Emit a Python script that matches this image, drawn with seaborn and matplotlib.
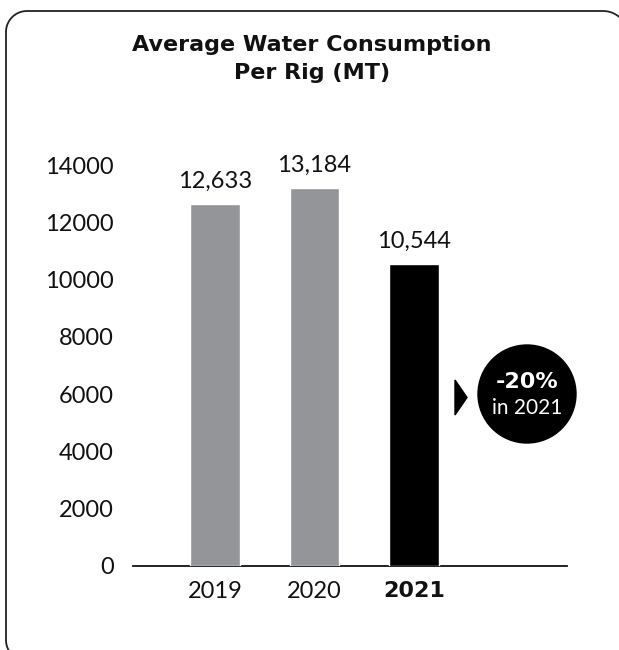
import matplotlib
matplotlib.use("Agg")
import matplotlib.pyplot as plt
import seaborn as sns
import pandas as pd
import numpy as np
from matplotlib.patches import Ellipse, Polygon

years = ["2019", "2020", "2021"]
values = [12633, 13184, 10544]
value_labels = ["12,633", "13,184", "10,544"]
bar_colors = ["#939598", "#939598", "#000000"]
y_ticks = [0, 2000, 4000, 6000, 8000, 10000, 12000, 14000]
title = "Average Water Consumption\nPer Rig (MT)"
badge_main = "-20%"
badge_sub = "in 2021"

sns.set_theme(style="white")
plt.rcParams["font.family"] = ["Lato", "DejaVu Sans"]

W, H = 619, 650
fig = plt.figure(figsize=(W / 100, H / 100), dpi=100)
fig.patch.set_facecolor("white")

ax = fig.add_axes([133 / W, 1 - 566 / H, (567 - 133) / W, (566 - 165) / H])
df = pd.DataFrame({"year": years, "value": values})
sns.barplot(data=df, x="year", y="value", hue="year", palette=bar_colors,
            legend=False, width=0.5, ax=ax, saturation=1)
ax.set_xlim(-0.824, 3.54)
ax.set_ylim(0, 14000)
ax.set_yticks(y_ticks)
ax.set_yticklabels([str(t) for t in y_ticks], fontsize=17, color="#111111")
ax.tick_params(axis="y", length=0, pad=14)
ax.tick_params(axis="x", length=0, pad=11)
ax.set_xticks(range(len(years)))
ax.set_xticklabels(years, fontsize=17, color="#111111")
for lbl in ax.get_xticklabels():
    if lbl.get_text() == "2021":
        lbl.set_fontweight("bold")
        lbl.set_family("DejaVu Sans")
        lbl.set_fontsize(16)
ax.set_xlabel("")
ax.set_ylabel("")
for s in ["top", "right", "left"]:
    ax.spines[s].set_visible(False)
ax.spines["bottom"].set_color("#111111")
ax.spines["bottom"].set_linewidth(1.3)
ax.spines["bottom"].set_zorder(0)
ax.set_facecolor("white")

for i, (v, t) in enumerate(zip(values, value_labels)):
    ax.text(i, v + 420, t, ha="center", va="bottom", fontsize=17,
            color="#111111", clip_on=False)

# title
fig.text(312 / W, 1 - 59 / H, title, ha="center", va="center",
         fontsize=16, fontweight="bold", family="DejaVu Sans",
         color="#111111", linespacing=1.45)

# frame (figure-fraction coords built from image-pixel positions)
def arc(cx, cy, r, a0, a1, n=30):
    t = np.radians(np.linspace(a0, a1, n))
    return [(cx + r * np.cos(a), cy + r * np.sin(a)) for a in t]

pts = []
pts += arc(27, 640, 21, 135, 180)          # bottom-left corner (partial)
pts += arc(27, 32, 21, 180, 270)           # top-left corner
pts += arc(603, 36, 25, 270, 345)          # top-right corner (partial)
xs = [x / W for x, y in pts]
ys = [1 - y / H for x, y in pts]
fig.add_artist(plt.Line2D(xs, ys, transform=fig.transFigure,
                          color="#222222", linewidth=1.3))

# badge
cx, cy, r = 527, 394, 49
fig.add_artist(Ellipse((cx / W, 1 - cy / H), 2 * r / W, 2 * r / H,
                       transform=fig.transFigure, color="black"))
fig.add_artist(Polygon([[455 / W, 1 - 380 / H], [455 / W, 1 - 415 / H],
                        [467 / W, 1 - 397.5 / H]],
                       closed=True, transform=fig.transFigure, color="black"))
fig.text(cx / W, 1 - 382 / H, badge_main, ha="center", va="center",
         fontsize=16, fontweight="bold", family="DejaVu Sans", color="white")
fig.text(cx / W, 1 - 408 / H, badge_sub, ha="center", va="center",
         fontsize=15, color="white")

fig.savefig("out.png", dpi=100, facecolor="white")
